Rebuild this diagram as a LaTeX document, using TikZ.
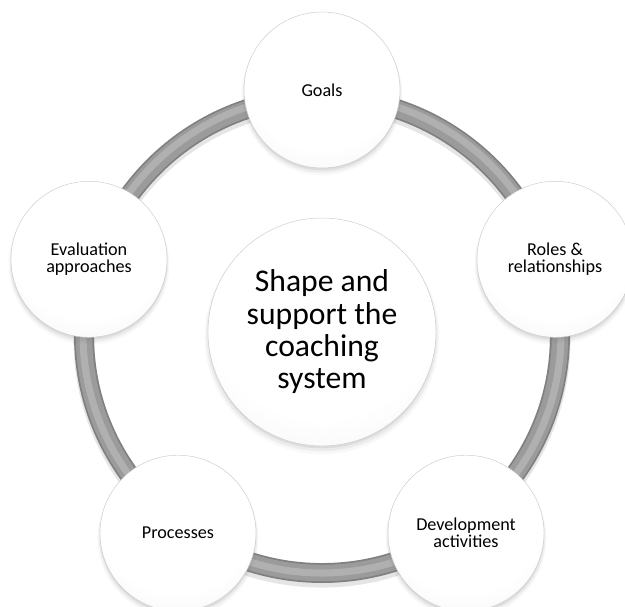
\documentclass[tikz,border=0pt]{standalone}
\usepackage{fontspec}
\setmainfont{Carlito}
\usetikzlibrary{shadows,positioning}
\pgfdeclareradialshading{orbshade}{\pgfpoint{0bp}{12bp}}{color(0bp)=(white); color(26bp)=(white); color(42bp)=(gray!12); color(50bp)=(gray!32); color(62bp)=(gray!60)}
\definecolor{ringgray}{RGB}{155,155,155}
\definecolor{ringlight}{RGB}{176,176,176}
\definecolor{ringedge}{RGB}{128,128,128}

\begin{document}
\begin{tikzpicture}[x=0.03cm,y=0.03cm,
  orb/.style={circle,shading=orbshade,draw=gray!40,thin,align=center,inner sep=0pt,
    drop shadow={shadow xshift=0pt,shadow yshift=-4pt,shadow scale=1.03,opacity=0.06},
    drop shadow={shadow xshift=0pt,shadow yshift=-3pt,shadow scale=1.015,opacity=0.1},
    drop shadow={shadow xshift=0pt,shadow yshift=-2pt,shadow scale=1.0,opacity=0.15}},
  sat/.style={orb,minimum size=4.68cm,font=\fontsize{15.5}{14.5}\selectfont},
  hubnode/.style={orb,minimum size=6.84cm,font=\fontsize{27}{27.6}\selectfont}]

 \useasboundingbox (-322,-271) rectangle (303,335);

 % ring behind the circles
 \draw[line width=18pt,black,opacity=0.10] (0,-4) circle[radius=238];
 \draw[line width=17pt,ringedge] (0,0) circle[radius=238];
 \draw[line width=14pt,ringgray] (0,0) circle[radius=238];
 \draw[line width=6pt,ringlight] (0,1) circle[radius=239];

 \node[hubnode] (hub) at (0,3) {Shape and\\support the\\coaching\\system};

 % outer circles
 \node[sat] (goals) at (90:245) {Goals};
 \node[sat] (roles) at (18:245) {Roles \&\\relationships};
 \node[sat] (devel) at (-54:245) {Development\\activities};
 \node[sat] (procs) at (-126:245) {Processes};
 \node[sat] (evalu) at (162:245) {Evaluation\\approaches};

\end{tikzpicture}
\end{document}
